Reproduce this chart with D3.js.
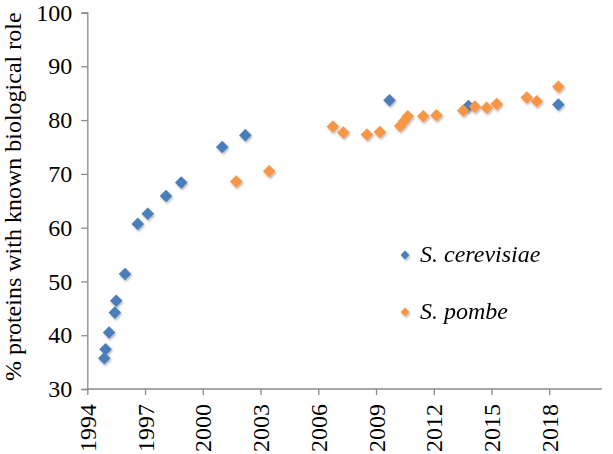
<!DOCTYPE html>
<html>
<head>
<meta charset="utf-8">
<script src="https://cdn.jsdelivr.net/npm/d3@7"></script>
<style>
  html, body { margin: 0; padding: 0; background: #fff; }
  svg { display: block; }
  text { font-family: "Liberation Serif", "Times New Roman", serif; fill: #000; }
</style>
</head>
<body>
<svg id="chart" width="613" height="454"></svg>
<script>
// ---- Data ----
const cerevisiaeYears  = [1994.88, 1994.95, 1995.13, 1995.43, 1995.5, 1995.96, 1996.62, 1997.14, 1998.09, 1998.88, 2001.01, 2002.21, 2009.7, 2013.8, 2018.47];
const cerevisiaeValues = [35.7, 37.4, 40.5, 44.2, 46.4, 51.4, 60.7, 62.6, 65.9, 68.4, 75.0, 77.2, 83.7, 82.6, 82.9];

const pombeYears  = [2001.74, 2003.45, 2006.76, 2007.3, 2008.53, 2009.2, 2010.25, 2010.45, 2010.65, 2011.45, 2012.14, 2013.53, 2014.14, 2014.75, 2015.27, 2016.83, 2017.35, 2018.47];
const pombeValues = [68.6, 70.5, 78.8, 77.7, 77.3, 77.8, 78.9, 79.8, 80.7, 80.7, 80.9, 81.8, 82.5, 82.3, 83.0, 84.2, 83.5, 86.2];

const xTickValues = [1994, 1997, 2000, 2003, 2006, 2009, 2012, 2015, 2018];
const yTickValues = [30, 40, 50, 60, 70, 80, 90, 100];
const seriesNames = ["S. cerevisiae", "S. pombe"];
const yAxisTitle = "% proteins with known biological role";

// ---- Layout ----
const FONT = "'Liberation Serif', 'Times New Roman', serif";
const svg = d3.select("#chart");
const x = d3.scaleLinear().domain([1994, 2020.74]).range([87.3, 602]);
const y = d3.scaleLinear().domain([30, 100]).range([389, 12.5]);
const axisColor = "#8a8a8a";
const colors = ["#4a7ebb", "#f79646"];

const defs = svg.append("defs");
const f = defs.append("filter").attr("id", "shadow").attr("x", "-50%").attr("y", "-50%").attr("width", "200%").attr("height", "200%");
f.append("feDropShadow").attr("dx", 1).attr("dy", 1.6).attr("stdDeviation", 1.1)
  .attr("flood-color", "#000").attr("flood-opacity", 0.3);

// Y axis
const yAxis = d3.axisLeft(y).tickValues(yTickValues).tickSize(6).tickPadding(9).tickFormat(d3.format("d"));
const gy = svg.append("g").attr("transform", "translate(87.3,0)").call(yAxis);
gy.attr("font-family", null).attr("font-size", null);
gy.selectAll("path, line").attr("stroke", axisColor).attr("stroke-width", 1.3);
gy.selectAll("text").style("font-family", FONT).style("font-size", "24px").attr("fill", "#000");

// X axis
const xAxis = d3.axisBottom(x).tickValues(xTickValues).tickSize(6).tickFormat(d3.format("d"));
const gx = svg.append("g").attr("transform", "translate(0,389)").call(xAxis);
gx.attr("font-family", null).attr("font-size", null);
gx.select("path").attr("d", `M${x.range()[0]},0H${x.range()[1]}`);
gx.selectAll("path, line").attr("stroke", axisColor).attr("stroke-width", 1.3);
gx.selectAll("text")
  .style("font-family", FONT).style("font-size", "24px").attr("fill", "#000")
  .attr("text-anchor", "end")
  .attr("transform", "translate(8,15) rotate(-90)")
  .attr("x", 0).attr("y", 0).attr("dy", 0);

// Y axis title
svg.append("text")
  .attr("transform", `translate(21,${(12.5 + 389) / 2 - 4}) rotate(-90)`)
  .attr("text-anchor", "middle")
  .style("font-family", FONT)
  .style("font-size", "24px")
  .text(yAxisTitle);

// Points
const diamond = d3.symbol().type(d3.symbolDiamond2).size(100);
function drawSeries(xs, vs, color) {
  const data = xs.map((d, i) => [d, vs[i]]);
  svg.append("g").attr("filter", "url(#shadow)")
    .selectAll("path").data(data).join("path")
    .attr("d", diamond)
    .attr("transform", d => `translate(${x(d[0])},${y(d[1])})`)
    .attr("fill", color);
}
drawSeries(cerevisiaeYears, cerevisiaeValues, colors[0]);
drawSeries(pombeYears, pombeValues, colors[1]);

// Legend
const legendItems = [{ name: seriesNames[0], color: colors[0], cy: 255 }, { name: seriesNames[1], color: colors[1], cy: 312 }];
const lg = svg.append("g");
legendItems.forEach(it => {
  lg.append("path").attr("d", d3.symbol().type(d3.symbolDiamond2).size(50)())
    .attr("transform", `translate(405,${it.cy})`).attr("fill", it.color).attr("filter", "url(#shadow)");
  lg.append("text").attr("x", 420).attr("y", it.cy + 7)
    .style("font-family", FONT).style("font-size", "24px").style("font-style", "italic").text(it.name);
});
</script>
</body>
</html>
